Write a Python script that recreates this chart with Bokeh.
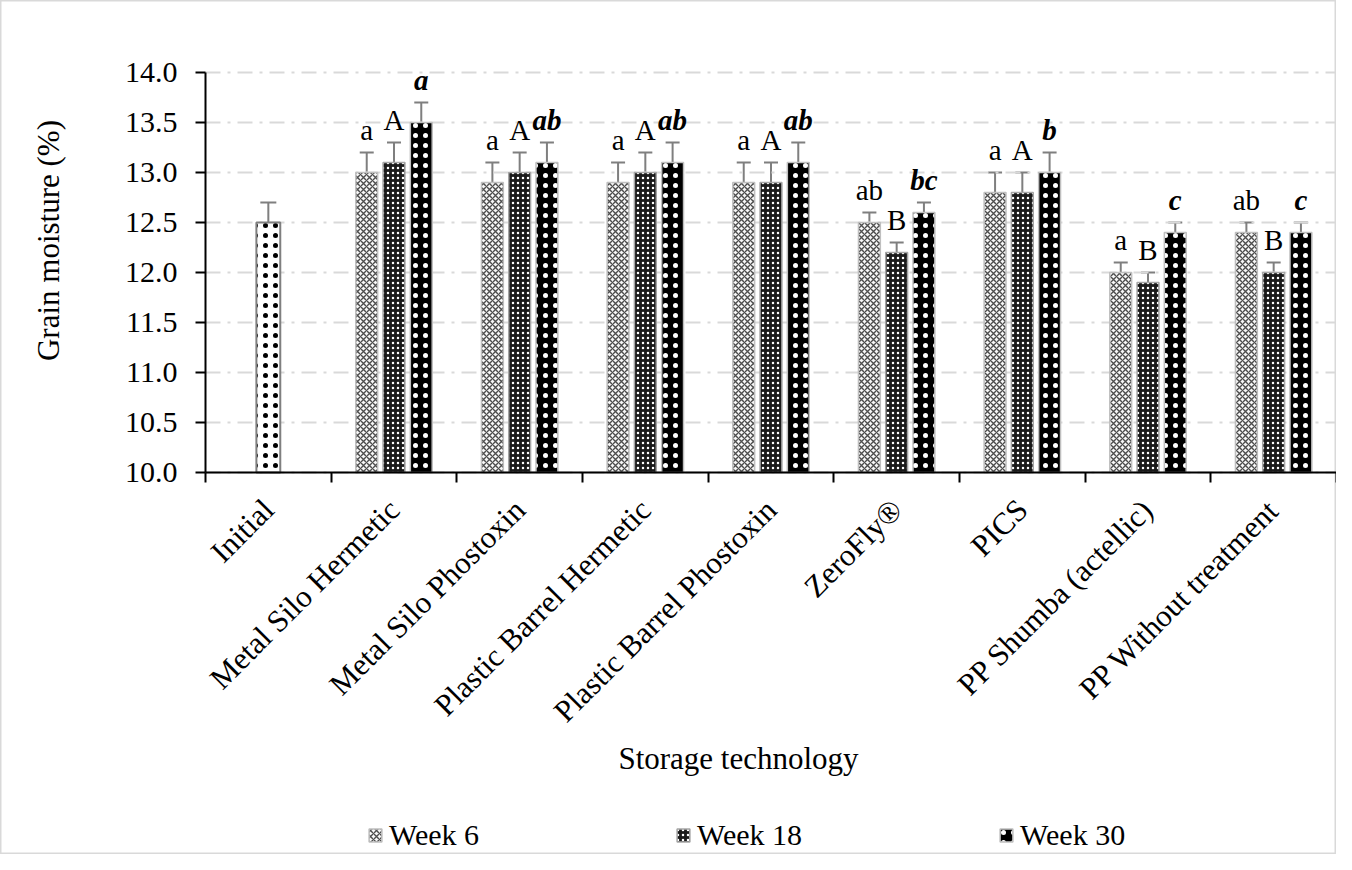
import math
from bokeh.plotting import figure
from bokeh.models import (ColumnDataSource, Range1d, FixedTicker, Whisker, TeeHead,
                          LabelSet, Label, Legend, LegendItem, NumeralTickFormatter)
from bokeh.embed import file_html
from bokeh.resources import INLINE

# ---------------- data ----------------
categories = ["Initial", "Metal Silo Hermetic", "Metal Silo Phostoxin",
              "Plastic Barrel Hermetic", "Plastic Barrel Phostoxin", "ZeroFly®",
              "PICS", "PP Shumba (actellic)", "PP Without treatment"]
initial_value = [12.5]
initial_err = [0.2]

series_names = ["Week 6", "Week 18", "Week 30"]
week6 = [13.0, 12.9, 12.9, 12.9, 12.5, 12.8, 12.0, 12.4]
week6_err = [0.2, 0.2, 0.2, 0.2, 0.1, 0.2, 0.1, 0.1]
week6_letters = ["a", "a", "a", "a", "ab", "a", "a", "ab"]
week18 = [13.1, 13.0, 13.0, 12.9, 12.2, 12.8, 11.9, 12.0]
week18_err = [0.2, 0.2, 0.2, 0.2, 0.1, 0.2, 0.1, 0.1]
week18_letters = ["A", "A", "A", "A", "B", "A", "B", "B"]
week30 = [13.5, 13.1, 13.1, 13.1, 12.6, 13.0, 12.4, 12.4]
week30_err = [0.2, 0.2, 0.2, 0.2, 0.1, 0.2, 0.1, 0.1]
week30_letters = ["a", "ab", "ab", "ab", "bc", "b", "c", "c"]

y_ticks = [10.0, 10.5, 11.0, 11.5, 12.0, 12.5, 13.0, 13.5, 14.0]
y_title = "Grain moisture (%)"
x_title = "Storage technology"

# ---------------- layout constants (pixels) ----------------
FONT = "Liberation Serif"
W, H = 1336, 854
AX_LEFT, AX_TOP, AX_BOTTOM = 205, 72, 472          # plotting area in pixels
n = len(categories)
ymin, ymax = y_ticks[0], y_ticks[-1]
px_per_x = (W - AX_LEFT) / n
px_per_y = (AX_BOTTOM - AX_TOP) / (ymax - ymin)
x_start = -AX_LEFT / px_per_x
y_end = ymax + AX_TOP / px_per_y
y_start = ymin - (H - AX_BOTTOM) / px_per_y


def px2x(px):
    return x_start + px / px_per_x


def py2y(py):
    return y_end - py / px_per_y


centers = [i + 0.5 for i in range(n)]
bounds = [float(i) for i in range(n + 1)]

p = figure(width=W, height=H, output_backend="svg", toolbar_location=None,
           x_range=Range1d(x_start, n), y_range=Range1d(y_start, y_end),
           min_border=0, min_border_left=0, min_border_right=0,
           min_border_top=0, min_border_bottom=0)
p.outline_line_color = "#d9d9d9"
p.outline_line_width = 2
p.background_fill_color = "white"
p.border_fill_color = "white"
p.xgrid.visible = False
p.ygrid.visible = False

# dash-dot horizontal gridlines across the category area
p.segment(x0=[bounds[0]] * len(y_ticks), x1=[bounds[-1]] * len(y_ticks),
          y0=y_ticks, y1=y_ticks, line_color="#d9d9d9", line_width=2,
          line_dash="15 7 3 7")

# y axis
ya = p.yaxis[0]
ya.fixed_location = bounds[0]
ya.bounds = (ymin, ymax)
ya.ticker = FixedTicker(ticks=y_ticks)
ya.formatter = NumeralTickFormatter(format="0.0")
ya.axis_line_color = "black"
ya.axis_line_width = 2
ya.major_tick_line_color = "black"
ya.major_tick_line_width = 2
ya.major_tick_out = 10
ya.major_tick_in = 0
ya.minor_tick_line_color = None
ya.major_label_standoff = 18
ya.major_label_text_font = FONT
ya.major_label_text_font_size = "30px"
ya.major_label_text_color = "black"

# x axis
xa = p.xaxis[0]
xa.fixed_location = ymin
xa.bounds = (bounds[0], bounds[-1])
xa.ticker = FixedTicker(ticks=centers, minor_ticks=bounds)
xa.major_label_overrides = {c: lab for c, lab in zip(centers, categories)}
xa.axis_line_color = "black"
xa.axis_line_width = 2
xa.major_tick_line_color = None
xa.major_tick_out = 0
xa.major_tick_in = 0
xa.minor_tick_line_color = "black"
xa.minor_tick_line_width = 2
xa.minor_tick_out = 10
xa.minor_tick_in = 0
xa.major_label_orientation = math.pi / 4
xa.major_label_standoff = 22
xa.major_label_text_font = FONT
xa.major_label_text_font_size = "31px"
xa.major_label_text_color = "black"

# axis titles
p.add_layout(Label(x=px2x(48), y=py2y(240), text=y_title, angle=math.pi / 2,
                   text_align="center", text_baseline="middle", text_font=FONT,
                   text_font_size="31px", text_color="black"))
p.add_layout(Label(x=px2x(738), y=py2y(758), text=x_title,
                   text_align="center", text_baseline="alphabetic", text_font=FONT,
                   text_font_size="31px", text_color="black"))

ERR_COLOR = "#7f7f7f"

# Initial bar
src0 = ColumnDataSource(dict(x=[centers[0]], top=initial_value,
                             upper=[v + e for v, e in zip(initial_value, initial_err)],
                             lower=[v - e for v, e in zip(initial_value, initial_err)]))
p.vbar(x="x", top="top", bottom=ymin, width=0.19, source=src0,
       fill_color="white", line_color="#7f7f7f", line_width=2,
       hatch_pattern="dot", hatch_color="black", hatch_scale=10, hatch_weight=1.0)
p.add_layout(Whisker(source=src0, base="x", upper="upper", lower="lower",
                     line_color=ERR_COLOR, line_width=2,
                     upper_head=TeeHead(size=16, line_color=ERR_COLOR, line_width=2),
                     lower_head=TeeHead(size=16, line_color=ERR_COLOR, line_width=2)))

styles = [
    dict(fill_color="#f7f7f7", line_color="#bfbfbf", hatch_pattern="diagonal_cross",
         hatch_color="#4d4d4d", hatch_scale=6, hatch_weight=1.4),
    dict(fill_color="#1a1a1a", line_color="#a6a6a6", hatch_pattern="dot",
         hatch_color="white", hatch_scale=5, hatch_weight=2.0),
    dict(fill_color="black", line_color="#bfbfbf", hatch_pattern="dot",
         hatch_color="white", hatch_scale=10, hatch_weight=1.0),
]
offsets = [-0.217, 0.0, 0.217]
vals = [week6, week18, week30]
errs = [week6_err, week18_err, week30_err]
letters = [week6_letters, week18_letters, week30_letters]
font_styles = ["normal", "normal", "bold italic"]

renderers = []
for k in range(3):
    xs = [c + offsets[k] for c in centers[1:]]
    src = ColumnDataSource(dict(
        x=xs, top=vals[k],
        upper=[v + e for v, e in zip(vals[k], errs[k])],
        lower=[v - e for v, e in zip(vals[k], errs[k])],
        label=letters[k]))
    r = p.vbar(x="x", top="top", bottom=ymin, width=0.174, source=src,
               line_width=1.5, **styles[k])
    renderers.append(r)
    p.add_layout(Whisker(source=src, base="x", upper="upper", lower="lower",
                         line_color=ERR_COLOR, line_width=2,
                         upper_head=TeeHead(size=14, line_color=ERR_COLOR, line_width=2),
                         lower_head=None))
    p.add_layout(LabelSet(source=src, x="x", y="upper", text="label",
                          y_offset=13, text_align="center", text_baseline="alphabetic",
                          text_font=FONT, text_font_size="29px",
                          text_font_style=font_styles[k], text_color="black"))

legend = Legend(items=[LegendItem(label=nm, renderers=[r]) for nm, r in zip(series_names, renderers)],
                orientation="horizontal", location=(367, 2), spacing=196,
                glyph_width=16, glyph_height=16, label_standoff=6, label_height=28,
                label_text_font="Liberation Serif, serif", label_text_font_size="30px",
                label_text_font_style="normal",
                label_text_color="black", border_line_color=None,
                background_fill_alpha=0, margin=0, padding=0)
p.add_layout(legend, "center")

open("out.html", "w").write(file_html(p, INLINE))
